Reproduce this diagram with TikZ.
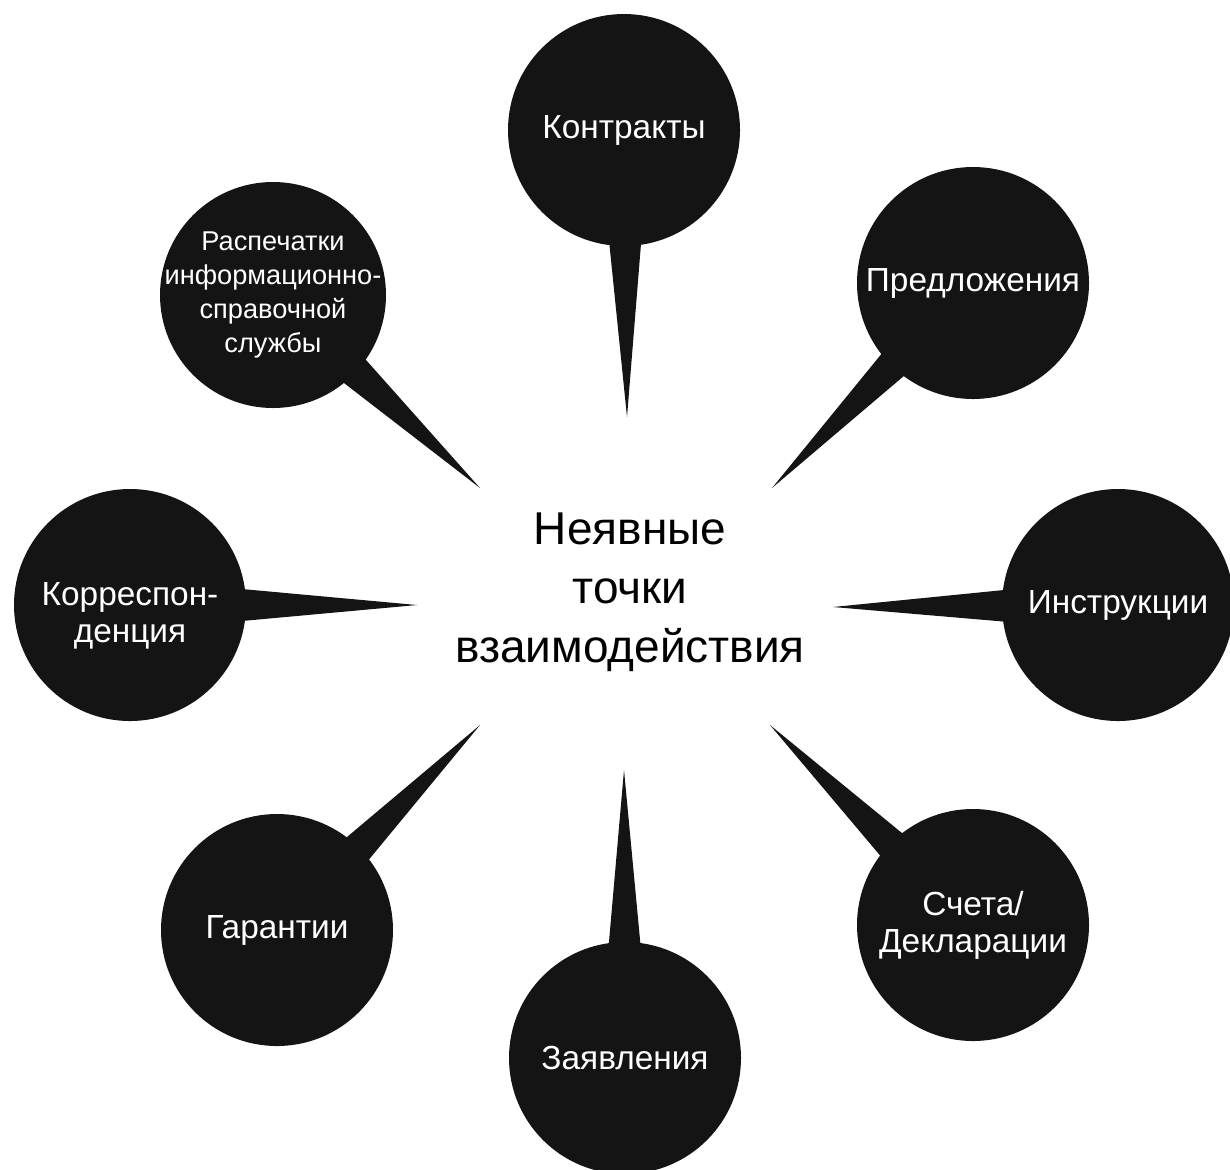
\documentclass[tikz,border=0pt]{standalone}
\usepackage{fontspec}
\setmainfont{Liberation Sans}
\usetikzlibrary{calc}
\definecolor{bubblegray}{HTML}{141414}

\begin{document}
\begin{tikzpicture}[x=0.5pt,y=-0.5pt]
\tikzset{
  bubble/.style = {shape=circle, fill=bubblegray, text=white,
                   minimum size=116pt, inner sep=-30pt, align=center,
                   font=\fontsize{16.7}{18.5}\selectfont},
  smallbubble/.style = {bubble, minimum size=113pt,
                        font=\fontsize{13.6}{17}\selectfont},
  hub/.style    = {align=center, font=\fontsize{23}{29.5}\selectfont},
  spike/.style  = {fill=bubblegray}
}
\useasboundingbox (0,0) rectangle (1230,1169);
\clip (0,0) rectangle (1230,1169);
  % centre text
  \node[hub] (hub) at (630,592) {Неявные\\точки\\взаимодействия};
  % bubbles round it
  \node[bubble] (contracts) at (624,130)  {Контракты};
  \node[bubble] (offers)    at (973,283)  {Предложения};
  \node[bubble] (manuals)   at (1118,605) {\raisebox{-1.5pt}{Инструкции}};
  \node[bubble] (invoices)  at (973,925)  {Счета/\\Декларации};
  \node[bubble] (claims)    at (625,1058) {Заявления};
  \node[bubble] (warranty)  at (277,930)  {Гарантии};
  \node[bubble, label={[bubble, fill=none, yshift=-5.5pt]center:{Корреспон-\\денция}}]
    (letters) at (130,605) {};
  \node[smallbubble] (printouts) at (273,295)
    {Распечатки\\информационно-\\справочной\\службы};
  % spike tips
  \coordinate (contracts-tip) at (627,417);
  \coordinate (offers-tip)    at (772,488);
  \coordinate (manuals-tip)   at (833,607);
  \coordinate (invoices-tip)  at (770,725);
  \coordinate (claims-tip)    at (624,770);
  \coordinate (warranty-tip)  at (480,725);
  \coordinate (letters-tip)   at (417,605);
  \coordinate (printouts-tip) at (480,488);
  \foreach \b in {contracts,offers,manuals,invoices,claims,warranty,letters,printouts}
    \fill[spike] ($(\b)!45pt!(\b-tip)!9pt!90:(\b-tip)$) -- (\b-tip)
      -- ($(\b)!45pt!(\b-tip)!9pt!-90:(\b-tip)$) -- cycle;
\end{tikzpicture}
\end{document}
